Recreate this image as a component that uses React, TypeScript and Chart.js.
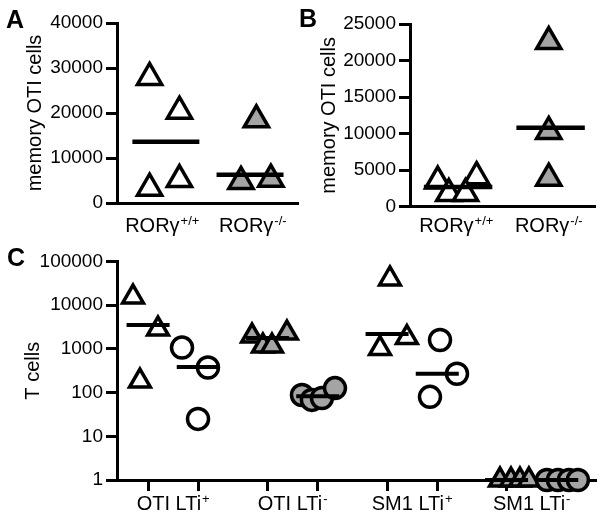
import React, { useEffect, useRef } from 'react';
import { Chart, registerables } from 'chart.js';

Chart.register(...registerables);

const FONT = '"Liberation Sans", Arial, Helvetica, sans-serif';
const BLACK = '#000000';
const GRAY = '#a4a4a4';
const WHITE = '#ffffff';

// ---------- Panel A ----------
const aCategories = ['RORγ', 'RORγ'];
const aCategorySup = ['+/+', '-/-'];
const aWtValues = [27900, 20400, 3300, 5200];
const aWtJitter = [-0.14, 0.19, -0.14, 0.19];
const aKoValues = [18500, 4800, 5300];
const aKoJitter = [0.04, -0.13, 0.2];
const aMedians = [13600, 6300];
const aMedianShift = [0.04, -0.03];
const aYTicks = [0, 10000, 20000, 30000, 40000];

// ---------- Panel B ----------
const bCategories = ['RORγ', 'RORγ'];
const bCategorySup = ['+/+', '-/-'];
const bWtValues = [3500, 4100, 1800, 1800];
const bWtJitter = [-0.2, 0.22, -0.08, 0.1];
const bKoValues = [22600, 10300, 3900];
const bKoJitter = [0, 0, 0];
const bMedians = [2700, 10800];
const bMedianShift = [0.02, 0.02];
const bYTicks = [0, 5000, 10000, 15000, 20000, 25000];

// ---------- Panel C ----------
const cCategories = ['OTI LTi', 'OTI LTi', 'SM1 LTi', 'SM1 LTi'];
const cCategorySup = ['+', '-', '+', '-'];
const cTriangleValues = [
  [15400, 2850, 184],
  [1970, 1165, 1165, 2310],
  [39800, 1020, 1820],
  [1, 1, 1, 1],
];
const cTriangleJitter = [
  [-0.336, -0.127, -0.278],
  [-0.34, -0.249, -0.173, -0.048],
  [-0.186, -0.269, -0.044],
  [-0.265, -0.173, -0.098, -0.023],
];
const cCircleValues = [
  [1070, 375, 25],
  [88, 68, 75, 127],
  [1600, 270, 80],
  [1, 1, 1, 1],
];
const cCircleJitter = [
  [0.074, 0.291, 0.208],
  [0.078, 0.161, 0.245, 0.354],
  [0.233, 0.375, 0.149],
  [0.128, 0.22, 0.312, 0.387],
];
const cTriangleMedians = [3520, 1780, 2190, 1];
const cCircleMedians = [385, 82, 270, 1];
const cYTicks = [1, 10, 100, 1000, 10000, 100000];

// ---------- helpers ----------
const pts = (values: number[], jitter: number[], center: number) =>
  values.map((v, i) => ({ x: center + jitter[i], y: v }));

const medianDataset = (value: number, center: number, half: number, width: number) => ({
  data: [
    { x: center - half, y: value },
    { x: center + half, y: value },
  ],
  showLine: true,
  borderColor: BLACK,
  borderWidth: width,
  pointRadius: 0,
  pointHoverRadius: 0,
  fill: false,
  clip: false,
});

const pointDataset = (data: any[], style: string, fill: string, radius: number, bw: number) => ({
  data,
  showLine: false,
  pointStyle: style,
  pointRadius: radius,
  pointHoverRadius: radius,
  pointBackgroundColor: fill,
  pointBorderColor: BLACK,
  pointBorderWidth: bw,
  pointHoverBorderWidth: bw,
  clip: false,
});

const labelPlugin = {
  id: 'groupLabels',
  afterDraw(chart: any, _args: any, opts: any) {
    const { ctx } = chart;
    const xs = chart.scales.x;
    const ca = chart.chartArea;
    const baseline = ca.bottom + opts.offset;
    ctx.save();
    ctx.fillStyle = BLACK;
    ctx.textBaseline = 'alphabetic';
    ctx.textAlign = 'left';
    opts.labels.forEach((lab: string, i: number) => {
      const cx = xs.getPixelForValue(opts.positions[i]);
      const main = `${opts.size}px ${FONT}`;
      const sup = `${opts.supSize}px ${FONT}`;
      ctx.font = main;
      const w1 = ctx.measureText(lab).width;
      ctx.font = sup;
      const w2 = ctx.measureText(opts.sups[i]).width;
      const x0 = cx - (w1 + w2 + 1) / 2;
      ctx.font = main;
      ctx.fillText(lab, x0, baseline);
      ctx.font = sup;
      ctx.fillText(opts.sups[i], x0 + w1 + 1, baseline - opts.supRise);
    });
    ctx.font = `bold 25px ${FONT}`;
    ctx.fillText(opts.letter, opts.letterX, opts.letterY);
    ctx.restore();
  },
};

const yGrid = {
  display: true,
  drawOnChartArea: false,
  drawTicks: true,
  tickLength: 11,
  tickWidth: 3,
  tickColor: BLACK,
  color: BLACK,
  lineWidth: 3,
};
const axisBorder = { display: true, color: BLACK, width: 3 };

const fitX = (h: number) => (s: any) => { s.height = h; };
const fitY = (w: number) => (s: any) => { s.width = w; };

function dotConfig(p: any) {
  const datasets: any[] = [];
  p.medians.forEach((m: number, g: number) =>
    datasets.push(medianDataset(m, g + 1 + p.medianShift[g], 0.37, 4.5))
  );
  datasets.push(pointDataset(pts(p.wt, p.wtJ, 1), 'triangle', WHITE, 14, 3.5));
  datasets.push(pointDataset(pts(p.ko, p.koJ, 2), 'triangle', GRAY, 14, 3.5));
  return {
    type: 'scatter',
    data: { datasets },
    plugins: [labelPlugin],
    options: {
      responsive: false,
      animation: false,
      events: [],
      layout: { padding: p.padding, autoPadding: false },
      plugins: {
        legend: { display: false },
        tooltip: { enabled: false },
        groupLabels: {
          labels: p.categories,
          sups: p.sups,
          positions: [1, 2],
          size: 20,
          supSize: 13,
          supRise: 7,
          offset: p.labelOffset,
          letter: p.letter,
          letterX: p.letterX,
          letterY: p.letterY,
        },
      },
      scales: {
        x: {
          type: 'linear',
          min: 0.5,
          max: 2.5,
          afterFit: fitX(p.xHeight),
          grid: { display: false },
          border: axisBorder,
          ticks: { display: false },
        },
        y: {
          type: 'linear',
          min: 0,
          max: p.yTicks[p.yTicks.length - 1],
          afterBuildTicks: (s: any) => { s.ticks = p.yTicks.map((v: number) => ({ value: v })); },
          afterFit: fitY(p.yWidth),
          grid: yGrid,
          border: axisBorder,
          ticks: {
            color: BLACK,
            font: { family: FONT, size: 19 },
            padding: 3,
            autoSkip: false,
            maxRotation: 0,
            callback: (v: any) => String(v),
          },
          title: {
            display: true,
            text: 'memory OTI cells',
            color: BLACK,
            font: { family: FONT, size: 20 },
            padding: { top: 3, bottom: 0 },
          },
        },
      },
    },
  };
}

function configC() {
  const datasets: any[] = [];
  const half = 0.18;
  cTriangleMedians.forEach((m, g) => datasets.push(medianDataset(m, g - 0.21, half, 4)));
  cCircleMedians.forEach((m, g) => datasets.push(medianDataset(m, g + 0.21, half, 4)));
  cCircleValues.forEach((vals, g) =>
    datasets.push(pointDataset(pts(vals, cCircleJitter[g], g), 'circle', g % 2 ? GRAY : WHITE, 10.5, 3.5))
  );
  cTriangleValues.forEach((vals, g) =>
    datasets.push(pointDataset(pts(vals, cTriangleJitter[g], g), 'triangle', g % 2 ? GRAY : WHITE, 12, 3.5))
  );
  const tickPositions = cCategories.flatMap((_, g) => [g - 0.21, g + 0.21]);
  return {
    type: 'scatter',
    data: { datasets },
    plugins: [labelPlugin],
    options: {
      responsive: false,
      animation: false,
      events: [],
      layout: { padding: { left: 18, top: 16.5, right: 5, bottom: 0 }, autoPadding: false },
      plugins: {
        legend: { display: false },
        tooltip: { enabled: false },
        groupLabels: {
          labels: cCategories,
          sups: cCategorySup,
          positions: cCategories.map((_, g) => g),
          size: 20,
          supSize: 13,
          supRise: 7,
          offset: 30,
          letter: 'C',
          letterX: 7,
          letterY: 21,
        },
      },
      scales: {
        x: {
          type: 'linear',
          min: -0.47,
          max: 3.53,
          afterBuildTicks: (s: any) => { s.ticks = tickPositions.map((v) => ({ value: v })); },
          afterFit: fitX(39),
          grid: { ...yGrid },
          border: axisBorder,
          ticks: { display: false },
        },
        y: {
          type: 'logarithmic',
          min: 1,
          max: 100000,
          afterBuildTicks: (s: any) => { s.ticks = cYTicks.map((v) => ({ value: v })); },
          afterFit: fitY(99),
          grid: yGrid,
          border: axisBorder,
          ticks: {
            color: BLACK,
            font: { family: FONT, size: 19 },
            padding: 3,
            autoSkip: false,
            maxRotation: 0,
            callback: (v: any) => String(v),
          },
          title: {
            display: true,
            text: 'T cells',
            color: BLACK,
            font: { family: FONT, size: 20 },
            padding: { top: 3, bottom: 0 },
          },
        },
      },
    },
  };
}

function ChartCanvas({ make, left, top, width, height }: any) {
  const ref = useRef<HTMLCanvasElement>(null);
  useEffect(() => {
    const chart = new Chart(ref.current as HTMLCanvasElement, make());
    return () => chart.destroy();
  }, []);
  return (
    <canvas
      ref={ref}
      width={width}
      height={height}
      style={{ position: 'absolute', left, top, width, height }}
    />
  );
}

export default function App() {
  return (
    <div style={{ position: 'absolute', left: 0, top: 0, width: 600, height: 519, background: '#fff' }}>
      <ChartCanvas
        left={0}
        top={0}
        width={300}
        height={245}
        make={() =>
          dotConfig({
            categories: aCategories,
            sups: aCategorySup,
            wt: aWtValues,
            wtJ: aWtJitter,
            ko: aKoValues,
            koJ: aKoJitter,
            medians: aMedians,
            medianShift: aMedianShift,
            yTicks: aYTicks,
            padding: { left: 20, top: 23, right: 2, bottom: 0 },
            yWidth: 97,
            xHeight: 42,
            labelOffset: 29,
            letter: 'A',
            letterX: 6,
            letterY: 28,
          })
        }
      />
      <ChartCanvas
        left={300}
        top={0}
        width={300}
        height={245}
        make={() =>
          dotConfig({
            categories: bCategories,
            sups: bCategorySup,
            wt: bWtValues,
            wtJ: bWtJitter,
            ko: bKoValues,
            koJ: bKoJitter,
            medians: bMedians,
            medianShift: bMedianShift,
            yTicks: bYTicks,
            padding: { left: 14, top: 24, right: 5, bottom: 0 },
            yWidth: 96,
            xHeight: 38.3,
            labelOffset: 25.5,
            letter: 'B',
            letterX: -1,
            letterY: 27,
          })
        }
      />
      <ChartCanvas left={0} top={245} width={600} height={274} make={configC} />
    </div>
  );
}
